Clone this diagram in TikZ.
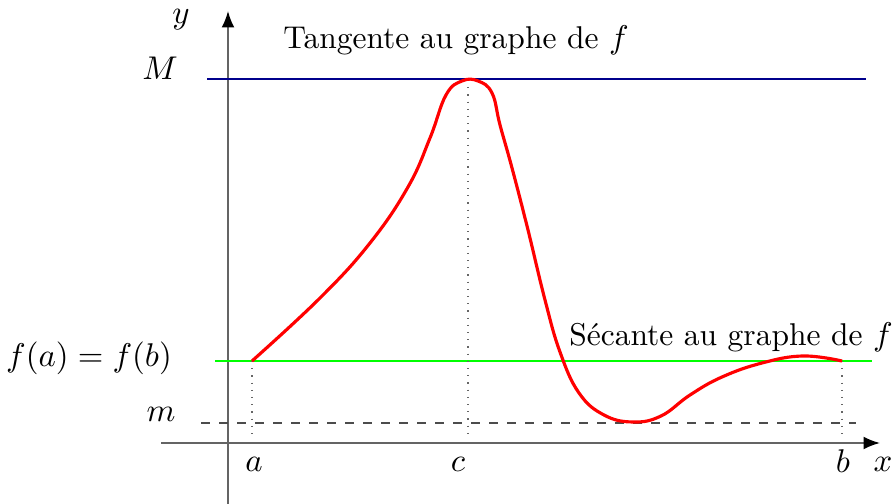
\documentclass[tikz,border=0pt]{standalone}
\usetikzlibrary{arrows.meta}
\definecolor{navy}{RGB}{0,0,140}
\definecolor{axisgray}{RGB}{100,100,100}
\tikzset{
  axis/.style={draw=axisgray, line width=0.6pt, -{Latex[length=5.5pt,width=4.3pt,color=black]}},
  guide/.style={draw=black!60, dotted, line width=0.4pt},
  lbl/.style={inner sep=0pt, font=\fontsize{10.5}{12.6}\selectfont},
}
\begin{document}
\begin{tikzpicture}[x=0.3333pt, y=-0.3333pt]
\useasboundingbox (0,0) rectangle (892,504);
% axes
\draw[axis] (161,443) -- (880,443);
\draw[axis] (228,504) -- (228,11);
% horizontal reference lines
\draw[navy, line width=0.6pt] (207,79) -- (866,79);
\draw[green, line width=0.6pt] (215,361) -- (872,361);
\draw[black!70, dashed, line width=0.4pt] (201,423) -- (856,423);
% guide lines
\draw[guide] (252,361) -- (252,440);
\draw[guide] (468,80) -- (468,440);
\draw[guide] (842,361) -- (842,440);
% curve
\draw[red, line width=1.05pt, line join=round] plot[smooth, tension=0.7] coordinates {
 (252,361) (320,298) (370,243) (408,187) (430,138) (446,95) (462,81)
 (478,81) (492,93) (500,125) (512,168) (528,230) (545,300) (560,352)
 (579,393) (604,415) (633,422) (661,416) (690,395) (722,377) (762,363)
 (803,356) (842,361)};
% labels
\node[lbl] (ly) at (181,20) {$y$};
\node[lbl] (lM) at (160,68) {$M$};
\node[lbl] (lt) at (456,40) {Tangente au graphe de $f$};
\node[lbl] (lfab) at (89,358) {$f(a)=f(b)$};
\node[lbl] (ls) at (731,337) {Sécante au graphe de $f$};
\node[lbl] (lm) at (161,414) {$m$};
\node[lbl] (la) at (254,464) {$a$};
\node[lbl] (lc) at (458,464) {$c$};
\node[lbl] (lb) at (843,461) {$b$};
\node[lbl] (lx) at (883,464) {$x$};
\end{tikzpicture}
\end{document}
